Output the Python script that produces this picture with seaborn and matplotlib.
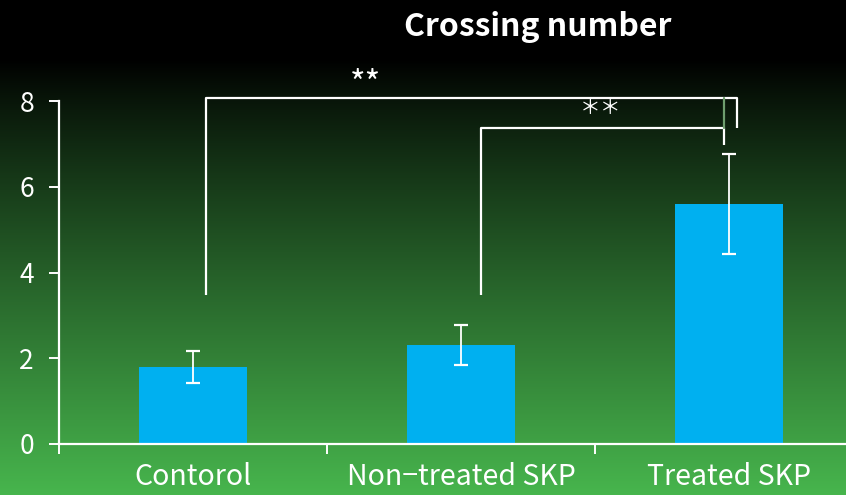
import numpy as np
import matplotlib
matplotlib.use("Agg")
import matplotlib.pyplot as plt
from matplotlib.colors import to_rgb
import seaborn as sns

# Crossing number per group (mean and error)
categories = ["Contorol", "Non\u2212treated SKP", "Treated SKP"]
means = [1.80, 2.31, 5.59]
errors = [0.37, 0.47, 1.17]
y_ticks = [0, 2, 4, 6, 8]
title = "Crossing number"

sns.set_theme(style="white")
plt.rcParams["font.family"] = ["Noto Sans CJK JP", "DejaVu Sans"]

W, H = 846, 495
fig = plt.figure(figsize=(W / 100, H / 100), dpi=100)

# vertical background gradient: black at top fading to green at the bottom
bg = fig.add_axes([0, 0, 1, 1], zorder=0)
bg.axis("off")
t = np.linspace(0, 1, H)
start = 0.12
frac = np.clip((t - start) / (1 - start), 0, 1) ** 0.9
green = np.array(to_rgb("#47B54D"))
rows = frac[:, None] * green[None, :]
img = np.repeat(rows[:, None, :], 8, axis=1)
bg.imshow(img, aspect="auto", extent=[0, 1, 0, 1], interpolation="bilinear")
bg.set_xlim(0, 1)
bg.set_ylim(0, 1)

ax = fig.add_axes([59 / W, 1 - 444 / H, (863 - 59) / W, 343 / H], zorder=1)
ax.patch.set_alpha(0)

sns.barplot(x=categories, y=means, ax=ax, color="#00B0F0", saturation=1,
            width=0.4, errorbar=None, edgecolor="none", linewidth=0)
ax.errorbar(range(len(means)), means, yerr=errors, fmt="none", ecolor="white",
            elinewidth=1.3, capsize=5, capthick=1.6, zorder=3)

ax.set_xlim(-0.5, 2.5)
ax.set_ylim(0, 8)
ax.set_xlabel("")
ax.set_ylabel("")

for side in ("top", "right"):
    ax.spines[side].set_visible(False)
for side in ("left", "bottom"):
    ax.spines[side].set_color("white")
    ax.spines[side].set_linewidth(1.6)

ax.set_yticks(y_ticks)
ax.tick_params(axis="y", colors="white", labelsize=19, direction="out",
               length=7, width=1.4, pad=11, left=True)
ax.set_xticks([-0.5, 0.5, 1.5, 2.5], minor=True)
ax.tick_params(axis="x", which="major", length=0, labelsize=20.5,
               labelcolor="white", pad=13)
ax.tick_params(axis="x", which="minor", length=7, width=1.4, colors="white",
               direction="out", bottom=True)

# significance brackets
line_kw = dict(color="white", lw=1.6, clip_on=False, solid_capstyle="butt")
ax.plot([0.047, 0.047, 2.03, 2.03], [3.47, 8.07, 8.07, 7.37], **line_kw)
ax.plot([1.075, 1.075, 1.983, 1.983], [3.47, 7.37, 7.37, 6.97], **line_kw)
ax.plot([1.983, 1.983], [7.37, 8.07], color="#6E9E6E", lw=1.6, clip_on=False)
ax.text(0.644, 8.36, "**", color="white", ha="center", va="center",
        fontsize=24)
ax.text(1.52, 7.84, "\uff0a\uff0a", color="white", ha="center", va="center",
        fontsize=15)

fig.text(538 / W, 1 - 27 / H, title, ha="center", va="center", fontsize=23,
         fontweight="bold", color="white")

fig.savefig("out.png", dpi=100)
